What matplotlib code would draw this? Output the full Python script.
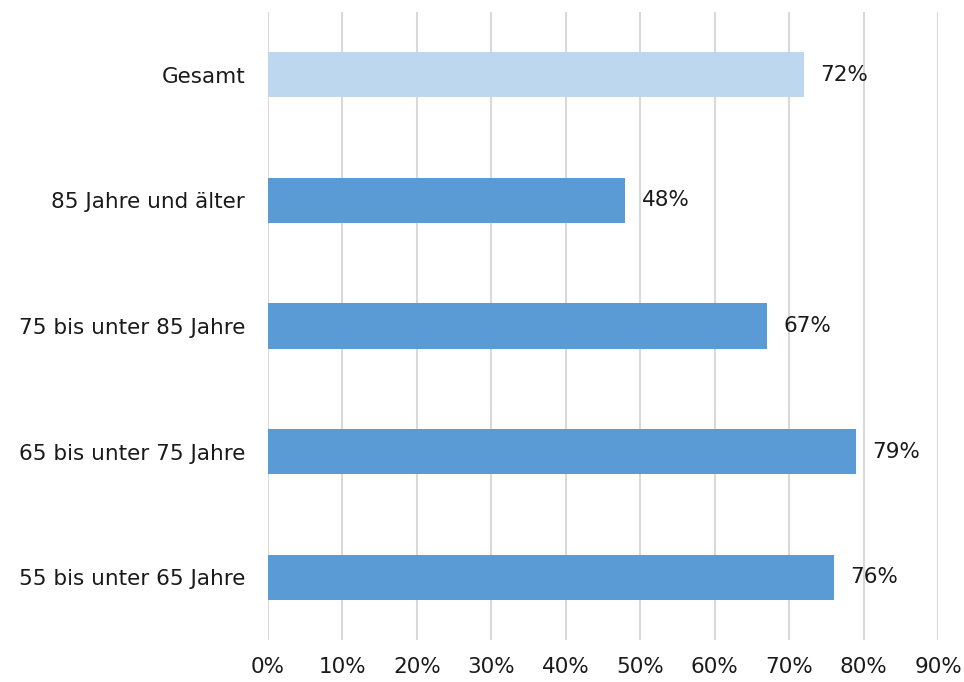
import matplotlib
matplotlib.use('Agg')
import matplotlib.pyplot as plt
from matplotlib.ticker import PercentFormatter

# Anteile nach Altersgruppe (von oben nach unten)
kategorien = ['Gesamt', '85 Jahre und älter', '75 bis unter 85 Jahre',
              '65 bis unter 75 Jahre', '55 bis unter 65 Jahre']
anteile = [72, 48, 67, 79, 76]
farben = ['#BDD7EE', '#5B9BD5', '#5B9BD5', '#5B9BD5', '#5B9BD5']
x_ticks = [0, 10, 20, 30, 40, 50, 60, 70, 80, 90]

plt.rcParams['font.family'] = ['DejaVu Sans']

fig = plt.figure(figsize=(9.64, 6.82), dpi=100)
ax = fig.add_axes([268 / 964, 1 - 640 / 682, 670 / 964, 628 / 682])

pos = list(range(len(kategorien)))
ax.barh(pos, anteile, height=0.36, color=farben, zorder=3)

for p, v in zip(pos, anteile):
    ax.text(v + 2.2, p, f'{v}%', va='center', ha='left', fontsize=15.5, color='#1a1a1a')

ax.set_xlim(0, 90)
ax.set_ylim(len(kategorien) - 0.5, -0.5)
ax.set_xticks(x_ticks)
ax.xaxis.set_major_formatter(PercentFormatter(decimals=0))
ax.set_yticks(pos)
ax.set_yticklabels(kategorien)
ax.tick_params(axis='both', length=0, labelsize=15.5, colors='#1a1a1a')
ax.tick_params(axis='x', pad=12)
ax.tick_params(axis='y', pad=16.5)

ax.grid(axis='x', color='#D9D9D9', linewidth=1.5, zorder=0)
for s in ax.spines.values():
    s.set_visible(False)

plt.savefig('out.png', dpi=100)
